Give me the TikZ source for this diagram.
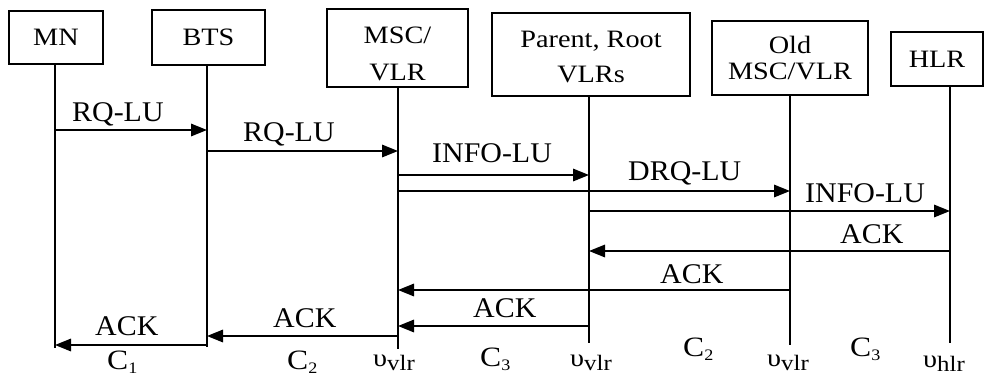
\documentclass[tikz,border=0pt]{standalone}
\usepackage{fontspec}
\setmainfont{Liberation Serif}
\newfontfamily\widefont[FakeStretch=1.13]{Liberation Serif}
\newfontfamily\msgfont[FakeStretch=1.05]{Liberation Serif}
\usetikzlibrary{arrows.meta}
\newcommand{\lowsub}[2]{\raisebox{-4.5pt}{\fontsize{#1}{#1}\selectfont #2}}

\begin{document}
\begin{tikzpicture}[x=1pt, y=-1pt,
    box/.style={draw, line width=1.6pt, inner sep=0pt, align=center, font=\widefont\fontsize{25}{37}\selectfont},
    life/.style={line width=1.6pt},
    msg/.style={-{Triangle[length=16pt,width=12.5pt]}, line width=1.6pt},
    msglbl/.style={anchor=base west, inner sep=0pt, font=\msgfont\fontsize{28.5}{30}\selectfont},
    cost/.style={anchor=base west, inner sep=0pt, font=\widefont\fontsize{28}{28}\selectfont},
    ups/.style={anchor=base west, inner sep=0pt, font=\widefont\fontsize{25}{25}\selectfont}]
    \useasboundingbox (0,0) rectangle (984,378);

    % entities
    \node[box, minimum width=94pt, minimum height=53pt] (mn) at (56,37.5) {MN};
    \node[box, minimum width=113pt, minimum height=55pt] (bts) at (208.5,37.5) {BTS};
    \node[box, minimum width=141pt, minimum height=78pt, text height=66pt] (msc) at (397.5,48) {MSC/\\VLR};
    \node[box, minimum width=198pt, minimum height=83pt, text height=57pt, font=\widefont\fontsize{25}{35}\selectfont] (par) at (591,54.5) {Parent, Root\\VLRs};
    \node[box, minimum width=156pt, minimum height=74pt, font=\widefont\fontsize{25}{26}\selectfont] (old) at (790,58) {Old\\MSC/VLR};
    \node[box, minimum width=92pt, minimum height=54pt] (hlr) at (937,59) {HLR};

    % lifelines
    \coordinate (mnl) at (55,348);
    \coordinate (btsl) at (207,347);
    \coordinate (mscl) at (398,349);
    \coordinate (parl) at (589,343);
    \coordinate (oldl) at (790,345);
    \coordinate (hlrl) at (950,343);
    \draw[life] (mn.south -| mnl) -- (mnl);
    \draw[life] (bts.south -| btsl) -- (btsl);
    \draw[life] (msc.south -| mscl) -- (mscl);
    \draw[life] (par.south -| parl) -- (parl);
    \draw[life] (old.south -| oldl) -- (oldl);
    \draw[life] (hlr.south -| hlrl) -- (hlrl);

    % location update requests
    \draw[msg] (mnl |- 0,130) -- (btsl |- 0,130);
    \node[msglbl] (rq1) at (72,121) {RQ-LU};
    \draw[msg] (btsl |- 0,151) -- (mscl |- 0,151);
    \node[msglbl] (rq2) at (243,141) {RQ-LU};
    \draw[msg] (mscl |- 0,175) -- (parl |- 0,175);
    \node[msglbl] (info1) at (432,162) {INFO-LU};
    \draw[msg] (mscl |- 0,191) -- (oldl |- 0,191);
    \node[msglbl] (drq) at (628,180) {DRQ-LU};
    \draw[msg] (parl |- 0,211) -- (hlrl |- 0,211);
    \node[msglbl] (info2) at (805,202) {INFO-LU};

    % acknowledgements
    \draw[msg] (hlrl |- 0,251) -- (parl |- 0,251);
    \node[msglbl] (ack1) at (840,243) {ACK};
    \draw[msg] (oldl |- 0,290) -- (mscl |- 0,290);
    \node[msglbl] (ack2) at (660,283) {ACK};
    \draw[msg] (parl |- 0,326) -- (mscl |- 0,326);
    \node[msglbl] (ack3) at (473,317) {ACK};
    \draw[msg] (mscl |- 0,336) -- (btsl |- 0,336);
    \node[msglbl] (ack4) at (273,327) {ACK};
    \draw[msg] (btsl |- 0,345) -- (mnl |- 0,345);
    \node[msglbl] (ack5) at (95,335) {ACK};

    % costs along the path
    \node[cost] (c1) at (107,369) {C\lowsub{16}{1}};
    \node[cost] (c2a) at (287,369) {C\lowsub{16}{2}};
    \node[ups] (u1) at (373,366) {υ\lowsub{22}{vlr}};
    \node[cost] (c3a) at (480,366) {C\lowsub{16}{3}};
    \node[ups] (u2) at (570,366) {υ\lowsub{22}{vlr}};
    \node[cost] (c2b) at (683,356) {C\lowsub{16}{2}};
    \node[ups] (u3) at (767,366) {υ\lowsub{22}{vlr}};
    \node[cost] (c3b) at (850,356) {C\lowsub{16}{3}};
    \node[ups] (u4) at (923,367) {υ\lowsub{22}{hlr}};
\end{tikzpicture}
\end{document}
